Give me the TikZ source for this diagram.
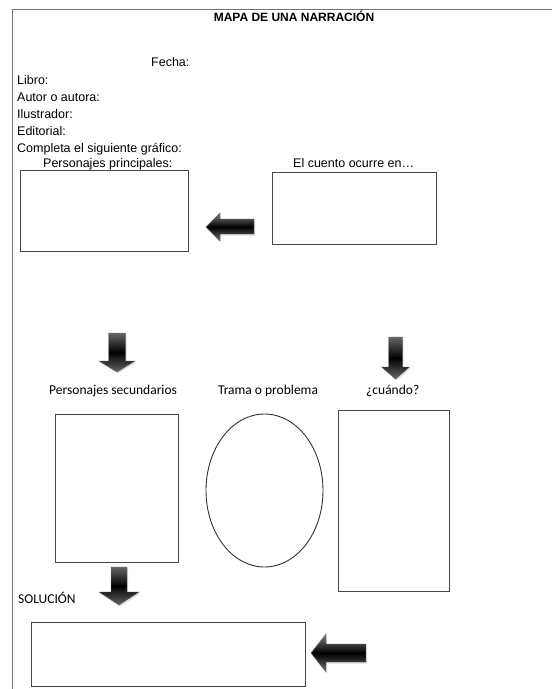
\documentclass[tikz,border=0pt]{standalone}
\usepackage{fontspec}
\setmainfont{Liberation Sans}
\newfontfamily\calib{Carlito}
\usetikzlibrary{shadows}
\begin{document}
\begin{tikzpicture}[x=1pt,y=-1pt,
  frameline/.style={draw=black!55, line width=1.2pt},
  boxshape/.style={draw=black!72, line width=1pt, rectangle, inner sep=0pt},
  arialtxt/.style={font=\fontsize{12.5}{14}\selectfont, inner sep=0pt, anchor=base west},
  titletxt/.style={font=\fontsize{12}{14}\selectfont\bfseries, inner sep=0pt, anchor=base},
  calibtxt/.style={font=\calib\fontsize{13.5}{16}\selectfont, inner sep=0pt, anchor=base west},
  blockarrowH/.style={top color=black!50, bottom color=black!55, middle color=black, draw=black!60, line width=0.4pt,
     drop shadow={opacity=0.25, shadow xshift=1pt, shadow yshift=-1.5pt}},
  blockarrowV/.style={top color=black!60, bottom color=black!60, middle color=black, draw=black!60, line width=0.4pt,
     drop shadow={opacity=0.25, shadow xshift=1pt, shadow yshift=-1.5pt}}
]
\useasboundingbox (0,0) rectangle (552,689);
\fill[white] (0,0) rectangle (552,689);

% frame
\coordinate (ftl) at (12.7,9.3);
\coordinate (ftr) at (552,9.3);
\coordinate (fbl) at (12.7,689);
\draw[frameline] (ftr) -- (ftl) -- (fbl);

% header texts
\node[titletxt] (title) at (294,21) {MAPA DE UNA NARRACIÓN};
\node[arialtxt] (fecha) at (151,66.5) {Fecha:};
\node[arialtxt] (libro) at (17,84.5) {Libro:};
\node[arialtxt] (autor) at (17,101.5) {Autor o autora:};
\node[arialtxt] (ilus) at (17,118.5) {Ilustrador:};
\node[arialtxt] (edit) at (17,135.5) {Editorial:};
\node[arialtxt] (compl) at (17,152.5) {Completa el siguiente gráfico:};
\node[arialtxt] (lpp) at (43,167.3) {Personajes principales:};
\node[arialtxt] (lco) at (293,167.3) {El cuento ocurre en…};

% top boxes
\node[boxshape, minimum width=167.5pt, minimum height=81pt] (pp) at (104.25,211.2) {};
\node[boxshape, minimum width=163.3pt, minimum height=71.3pt] (co) at (354.35,208.35) {};

% arrow 1 (left)
\path[blockarrowH] (254,219) -- (220,219) -- (220,213) -- (206,227) -- (220,241) -- (220,234) -- (254,234) -- cycle;

% down arrows
\path[blockarrowV] (108.5,333) -- (125.5,333) -- (125.5,361) -- (135,361) -- (117,372) -- (99,361) -- (108.5,361) -- cycle;
\path[blockarrowV] (388.5,337) -- (402.5,337) -- (402.5,367) -- (409.5,367) -- (395.5,379) -- (381.5,367) -- (388.5,367) -- cycle;

% middle labels
\node[calibtxt] (lps) at (49,394) {Personajes secundarios};
\node[calibtxt, anchor=base] (ltp) at (268,394) {Trama o problema};
\node[calibtxt] (lcu) at (366,394) {¿cuándo?};

% middle shapes
\node[boxshape, minimum width=123pt, minimum height=148pt] (ps) at (116.5,488) {};
\coordinate (tp) at (264.5,490.5);
\draw[draw=black!80, line width=0.9pt] (tp) ellipse [x radius=58.5, y radius=76.5];
\node[boxshape, minimum width=111pt, minimum height=181pt] (cu) at (393.5,500.5) {};

% solution
\path[blockarrowV] (111,567) -- (127,567) -- (127,592) -- (139,592) -- (119,605) -- (99,592) -- (111,592) -- cycle;
\node[calibtxt] (lsol) at (18,603) {SOLUCIÓN};
\node[boxshape, minimum width=274pt, minimum height=64pt] (sol) at (168,654) {};
\path[blockarrowH] (366,644) -- (326,644) -- (326,634) -- (311,653) -- (326,672) -- (326,662) -- (366,662) -- cycle;
\end{tikzpicture}
\end{document}
